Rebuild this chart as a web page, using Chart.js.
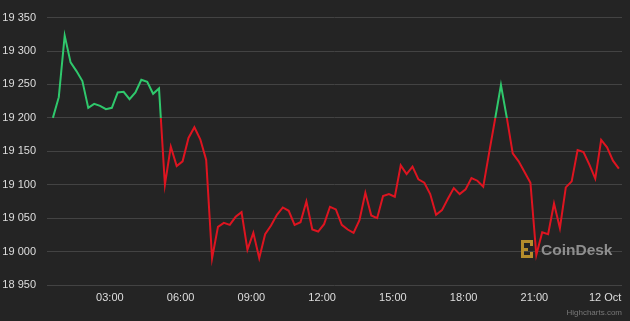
<!DOCTYPE html>
<html>
<head>
<meta charset="utf-8">
<script src="https://cdn.jsdelivr.net/npm/chart.js@4/dist/chart.umd.min.js"></script>
<style>
  html, body { margin: 0; padding: 0; background: #242424; }
  #wrap { width: 630px; height: 321px; position: relative; }
</style>
</head>
<body>
<div id="wrap"><canvas id="btcChart"></canvas></div>
<script>
// BTC price, 15 min steps, from ~00:35 on 11 Oct to ~00:35 on 12 Oct
const startMinute = 35;
const stepMinutes = 15;
const prices = [
    19200, 19231, 19323, 19283, 19270, 19255, 19215, 19221, 19218, 19213,
    19215, 19238, 19239, 19228, 19238, 19257, 19254, 19236, 19244, 19100,
    19157, 19128, 19135, 19170, 19186, 19168, 19137, 18990, 19037, 19043,
    19040, 19052, 19059, 19003, 19028, 18990, 19026, 19039, 19055, 19066,
    19061, 19040, 19044, 19075, 19033, 19030, 19041, 19067, 19063, 19040,
    19033, 19028, 19047, 19088, 19054, 19050, 19083, 19086, 19082, 19129,
    19116, 19127, 19108, 19103, 19086, 19055, 19062, 19079, 19095, 19086,
    19093, 19110, 19106, 19097, 19148, 19198, 19249, 19200, 19147, 19135,
    19119, 19103, 18995, 19029, 19026, 19072, 19035, 19096, 19105, 19152,
    19149, 19130, 19109, 19167, 19156, 19136, 19124
];
const openPrice = 19200;
const xTicks = [180, 360, 540, 720, 900, 1080, 1260, 1440];
const xTickLabels = ['03:00', '06:00', '09:00', '12:00', '15:00', '18:00', '21:00', '12 Oct'];
const yTicks = [18950, 19000, 19050, 19100, 19150, 19200, 19250, 19300, 19350];

const upColor = '#2fc86c';
const downColor = '#de1420';
const labelColor = '#dedede';
const fontFamily = '"Liberation Sans", Arial, Helvetica, sans-serif';

const points = prices.map((p, i) => ({ x: startMinute + i * stepMinutes, y: p }));

const lineColor = (context) => {
    const chart = context.chart;
    const { chartArea, scales } = chart;
    if (!chartArea) return downColor;
    const yPx = scales.y.getPixelForValue(openPrice);
    let stop = (yPx - chartArea.top) / (chartArea.bottom - chartArea.top);
    stop = Math.min(Math.max(stop, 0), 1);
    const g = chart.ctx.createLinearGradient(0, chartArea.top, 0, chartArea.bottom);
    g.addColorStop(0, upColor);
    g.addColorStop(stop, upColor);
    g.addColorStop(stop, downColor);
    g.addColorStop(1, downColor);
    return g;
};

// CoinDesk watermark + highcharts credit
const brandPlugin = {
    id: 'brand',
    beforeDatasetsDraw(chart) {
        const c = chart.ctx;
        c.save();
        c.fillStyle = '#b58d2c';
        c.fillRect(521, 240, 3, 18);
        c.fillRect(521, 240, 12, 3);
        c.fillRect(521, 255, 12, 3);
        c.fillRect(530, 240, 3, 6);
        c.fillRect(530, 252, 3, 6);
        c.fillRect(524, 248, 4, 3);
        c.fillStyle = '#8f8f8f';
        c.font = 'bold 15.5px ' + fontFamily;
        c.textBaseline = 'alphabetic';
        c.textAlign = 'left';
        c.fillText('CoinDesk', 541, 255);
        c.restore();
    },
    afterDraw(chart) {
        const c = chart.ctx;
        c.save();
        c.fillStyle = '#777777';
        c.font = '8px ' + fontFamily;
        c.textAlign = 'right';
        c.textBaseline = 'alphabetic';
        c.fillText('Highcharts.com', 622, 315);
        c.restore();
    }
};

const ctx = document.getElementById('btcChart').getContext('2d');
const btcChart = new Chart(ctx, {
    type: 'line',
    data: {
        datasets: [{
            data: points,
            borderColor: lineColor,
            borderWidth: 2,
            pointRadius: 0,
            tension: 0,
            fill: false
        }]
    },
    options: {
        responsive: true,
        maintainAspectRatio: false,
        animation: false,
        layout: {
            padding: { left: 0, right: 8, top: 9, bottom: 0 }
        },
        plugins: {
            legend: false,
            tooltip: { enabled: false }
        },
        scales: {
            x: {
                type: 'linear',
                min: 20,
                max: 1483,
                grid: { display: false, drawTicks: false },
                border: { display: false },
                afterBuildTicks: (axis) => {
                    axis.ticks = xTicks.map(v => ({ value: v }));
                },
                afterFit: (axis) => { axis.height = 36; },
                ticks: {
                    autoSkip: false,
                    maxRotation: 0,
                    padding: 6,
                    color: labelColor,
                    font: { family: fontFamily, size: 11 },
                    callback: function (value) {
                        const idx = xTicks.indexOf(value);
                        return idx >= 0 ? xTickLabels[idx] : '';
                    }
                }
            },
            y: {
                min: 18950,
                max: 19350,
                grid: {
                    color: '#434343',
                    lineWidth: 1,
                    drawTicks: false
                },
                border: { display: false },
                afterBuildTicks: (axis) => {
                    axis.ticks = yTicks.map(v => ({ value: v }));
                },
                afterFit: (axis) => { axis.width = 47; },
                ticks: {
                    padding: 11,
                    color: labelColor,
                    font: { family: fontFamily, size: 11 },
                    callback: function (value) {
                        return String(value).replace(/\B(?=(\d{3})+(?!\d))/g, ' ');
                    }
                }
            }
        }
    },
    plugins: [brandPlugin]
});
</script>
</body>
</html>
